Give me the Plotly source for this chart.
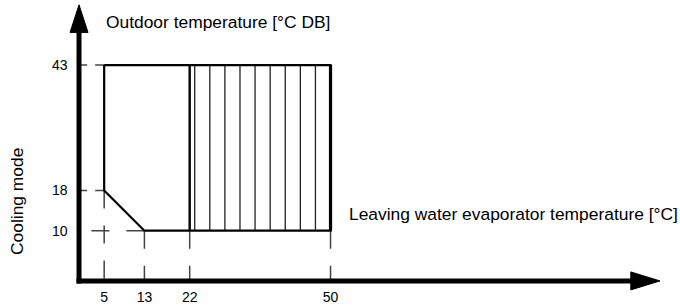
import plotly.graph_objects as go

# ---- data ----
x_ticks = [5, 13, 22, 50]
y_ticks = [43, 18, 10]
env_x = [5, 50, 50, 13, 5, 5]
env_y = [43, 43, 10, 10, 18, 43]
split_x = 22
hatch_x = [23, 26, 29, 32, 35, 38, 41, 44, 47]
y_low, y_high = 10, 43
x_max = 50
# guide lines: (value, corner) pairs
h_guides = [(43, 5), (18, 5), (10, 13)]   # y, x of corner
v_guides = [(5, 18), (13, 10), (22, 10), (50, 10)]  # x, y of corner

x_title = "Leaving water evaporator temperature [°C]"
y_title = "Outdoor temperature [°C DB]"
side_title = "Cooling mode"

# ---- style ----
FONT = "Liberation Sans, Arial, sans-serif"
X_RANGE = [-15.71, 119.48]
Y_RANGE = [-4.8, 55.96]
AX_X_END = 110.0
AX_Y_END = 49.8
GUIDE_COL = "#444444"

fig = go.Figure()

def line(xs, ys, width, color="black", dash=None):
    fig.add_trace(go.Scatter(x=xs, y=ys, mode="lines",
                             line=dict(color=color, width=width, dash=dash),
                             hoverinfo="skip", showlegend=False))

# guide lines
for yv, xc in h_guides:
    dash = "18px,17px" if xc > 8 else "9px,8px"
    line([xc, 0], [yv, yv], 1.5, GUIDE_COL, dash)
for xv, yc in v_guides:
    line([xv, xv], [yc, 0], 1.5, GUIDE_COL, "18px,17px")

# hatching
for hx in hatch_x:
    line([hx, hx], [y_low, y_high], 1.3, "#222222")

# envelope
line(env_x, env_y, 2.2)
line([split_x, split_x], [y_low, y_high], 2.4)
line([x_max, x_max], [y_low, y_high], 3.2)

# axes with arrows
line([-0.5, AX_X_END], [0, 0], 5)
line([0, 0], [-0.5, AX_Y_END], 5)
fig.add_trace(go.Scatter(x=[-1.79, 0, 1.79, -1.79], y=[AX_Y_END - 0.3, 55.0, AX_Y_END - 0.3, AX_Y_END - 0.3],
                         mode="lines", fill="toself", fillcolor="black",
                         line=dict(color="black", width=1), hoverinfo="skip", showlegend=False))
fig.add_trace(go.Scatter(x=[AX_X_END - 0.3, 115.5, AX_X_END - 0.3, AX_X_END - 0.3], y=[-1.79, 0, 1.79, -1.79],
                         mode="lines", fill="toself", fillcolor="black",
                         line=dict(color="black", width=1), hoverinfo="skip", showlegend=False))

fig.update_layout(
    width=680, height=305,
    margin=dict(l=0, r=0, t=0, b=0),
    paper_bgcolor="white", plot_bgcolor="white",
    hovermode=False,
    font=dict(family=FONT, color="black"),
    xaxis=dict(range=X_RANGE, anchor="free", position=0.058, showgrid=False, zeroline=False,
               showline=False, ticks="", tickvals=x_ticks, ticktext=[str(v) for v in x_ticks],
               tickfont=dict(size=14, family=FONT, color="black"), automargin=False, fixedrange=True),
    yaxis=dict(range=Y_RANGE, anchor="free", position=0.0995, showgrid=False, zeroline=False,
               showline=False, ticks="", tickvals=y_ticks, ticktext=[str(v) for v in y_ticks],
               tickfont=dict(size=14, family=FONT, color="black"), automargin=False, fixedrange=True),
    annotations=[
        dict(text=y_title, x=104 / 680, y=1 - 22 / 305, xref="paper", yref="paper",
             xanchor="left", yanchor="middle", showarrow=False, font=dict(size=17.4, family=FONT, color="black")),
        dict(text=x_title, x=347 / 680, y=1 - 214 / 305, xref="paper", yref="paper",
             xanchor="left", yanchor="middle", showarrow=False, font=dict(size=17.4, family=FONT, color="black")),
        dict(text=side_title, x=17 / 680, y=1 - 202 / 305, xref="paper", yref="paper",
             xanchor="center", yanchor="middle", textangle=-90, showarrow=False,
             font=dict(size=17.4, family=FONT, color="black")),
    ],
)

fig.write_html("out.html", config={"displayModeBar": False, "staticPlot": True},
               post_script="document.body.style.margin='0';document.body.style.overflow='hidden';")
